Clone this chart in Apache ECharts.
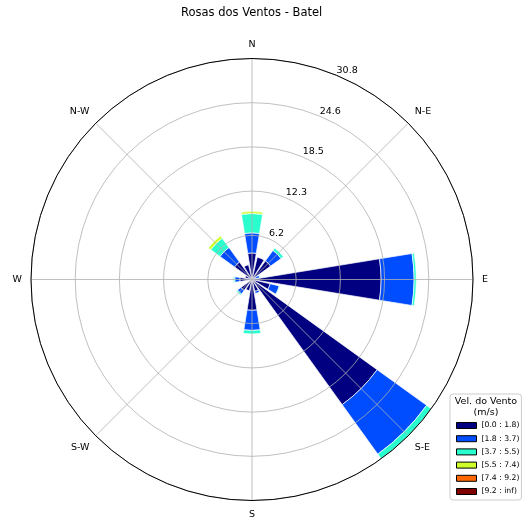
<!DOCTYPE html>
<html>
<head>
<meta charset="utf-8">
<script src="https://cdn.jsdelivr.net/npm/echarts@6/dist/echarts.min.js"></script>
<style>
html,body{margin:0;padding:0;background:#fff;}
#chart{width:522px;height:520px;}
</style>
</head>
<body>
<div id="chart"></div>
<script>
// 16 wind directions (clockwise from North)
const directions = ['N','NNE','NE','ENE','E','ESE','SE','SSE','S','SSW','SW','WSW','W','WNW','NW','NNW'];
// Frequency (%) per speed bin, per direction
const bin0 = [3.7, 3.2, 3.2, 0.5, 18.0, 2.6, 21.5, 1.7, 4.3, 1.6, 1.9, 0.4, 1.7, 1.0, 3.0, 2.1];
const bin1 = [2.8, 0.0, 1.8, 0.6, 4.6, 1.3, 8.5, 0.3, 2.8, 0, 0.6, 0, 0.7, 0, 2.5, 0];
const bin2 = [2.7, 0, 0.4, 0.1, 0.3, 0.1, 0.8, 0, 0.5, 0, 0.2, 0, 0.2, 0, 1.6, 0];
const bin3 = [0.3, 0, 0, 0, 0, 0, 0, 0, 0, 0, 0, 0, 0, 0, 0.4, 0];
const bin4 = [0, 0, 0, 0, 0, 0, 0, 0, 0, 0, 0, 0, 0, 0, 0, 0];
const bin5 = [0, 0, 0, 0, 0, 0, 0, 0, 0, 0, 0, 0, 0, 0, 0, 0];
const binLabels = ['[0.0 : 1.8)', '[1.8 : 3.7)', '[3.7 : 5.5)', '[5.5 : 7.4)', '[7.4 : 9.2)', '[9.2 : inf)'];
// Compass tick labels every 45 degrees
const compassValues = [0, 45, 90, 135, 180, 225, 270, 315];
const compassLabels = ['N', 'N-E', 'E', 'S-E', 'S', 'S-W', 'W', 'N-W'];
// Radial scale
const radialMax = 30.8;
const radialStep = 6.16;

const colors = ['#000080', '#004cff', '#29ffce', '#ceff29', '#ff6800', '#800000'];
const bins = [bin0, bin1, bin2, bin3, bin4, bin5];

const center = [252, 279.5];
const radius = 221;
const font = 'DejaVu Sans';

const chart = echarts.init(document.getElementById('chart'), null, {renderer: 'canvas'});

const series = bins.map((b, i) => ({
  type: 'bar',
  name: binLabels[i],
  coordinateSystem: 'polar',
  polarIndex: 0,
  stack: 'wind',
  barWidth: '82%',
  data: b.map(v => (v === 0 ? null : v)),
  itemStyle: {color: colors[i], borderColor: '#ffffff', borderWidth: 0.7},
  emphasis: {disabled: true},
  z: 2
}));

const option = {
  backgroundColor: '#ffffff',
  animation: false,
  title: {
    text: 'Rosas dos Ventos - Batel',
    left: 181, top: 7, padding: 0,
    textStyle: {fontFamily: font, fontSize: 11.5, fontWeight: 'normal', color: '#000'}
  },
  polar: [
    {center: center, radius: radius},
    {center: center, radius: radius},
    {center: center, radius: radius}
  ],
  angleAxis: [
    {
      polarIndex: 0, type: 'category', data: directions,
      startAngle: 90 + 360 / 32, clockwise: true,
      axisLine: {show: false}, axisTick: {show: false}, axisLabel: {show: false}, splitLine: {show: false}
    },
    {
      polarIndex: 1, type: 'value', min: 0, max: 360, interval: 45,
      startAngle: 90, clockwise: true, z: 10,
      axisLine: {show: true, lineStyle: {color: '#000', width: 1}},
      axisTick: {show: false},
      axisLabel: {
        show: true, margin: 9, color: '#000', fontFamily: font, fontSize: 9.5,
        formatter: v => { const k = compassValues.indexOf(v); return k >= 0 ? compassLabels[k] : ''; }
      },
      splitLine: {show: true, lineStyle: {color: '#b0b0b0', width: 0.8}}
    },
    {
      polarIndex: 2, type: 'value', min: 0, max: 360,
      startAngle: 90 - 22.5, clockwise: true,
      axisLine: {show: false}, axisTick: {show: false}, axisLabel: {show: false}, splitLine: {show: false}
    }
  ],
  radiusAxis: [
    {
      polarIndex: 0, type: 'value', min: 0, max: radialMax,
      axisLine: {show: false}, axisTick: {show: false}, axisLabel: {show: false}, splitLine: {show: false}
    },
    {
      polarIndex: 1, type: 'value', min: 0, max: radialMax, interval: radialStep, z: 10,
      axisLine: {show: false}, axisTick: {show: false}, axisLabel: {show: false},
      splitLine: {show: true, lineStyle: {color: '#b0b0b0', width: 0.8}}
    },
    {
      polarIndex: 2, type: 'value', min: 0, max: radialMax, interval: radialStep, z: 11,
      axisLine: {show: false}, axisTick: {show: false}, splitLine: {show: false},
      axisLabel: {
        show: true, margin: 0, align: 'left', verticalAlign: 'bottom',
        color: '#000', fontFamily: font, fontSize: 9.5,
        formatter: v => (v <= 0 ? '' : v.toFixed(1))
      }
    }
  ],
  legend: {
    orient: 'vertical',
    left: 450, top: 394,
    padding: [27, 2, 4, 6],
    itemWidth: 20, itemHeight: 6, itemGap: 4.2,
    backgroundColor: '#ffffff',
    borderColor: '#cccccc', borderWidth: 1, borderRadius: 3,
    icon: 'rect',
    itemStyle: {borderColor: '#000', borderWidth: 1},
    textStyle: {fontFamily: font, fontSize: 7.7, color: '#000', lineHeight: 9},
    data: binLabels,
    selectedMode: false
  },
  graphic: [
    {type: 'text', x: 486, y: 397, z: 100,
     style: {text: 'Vel. do Vento', textAlign: 'center', textVerticalAlign: 'top', fontFamily: font, fontSize: 9.5, fill: '#000'}},
    {type: 'text', x: 486, y: 408, z: 100,
     style: {text: '(m/s)', textAlign: 'center', textVerticalAlign: 'top', fontFamily: font, fontSize: 9.5, fill: '#000'}}
  ],
  series: series
};
chart.setOption(option);
</script>
</body>
</html>
